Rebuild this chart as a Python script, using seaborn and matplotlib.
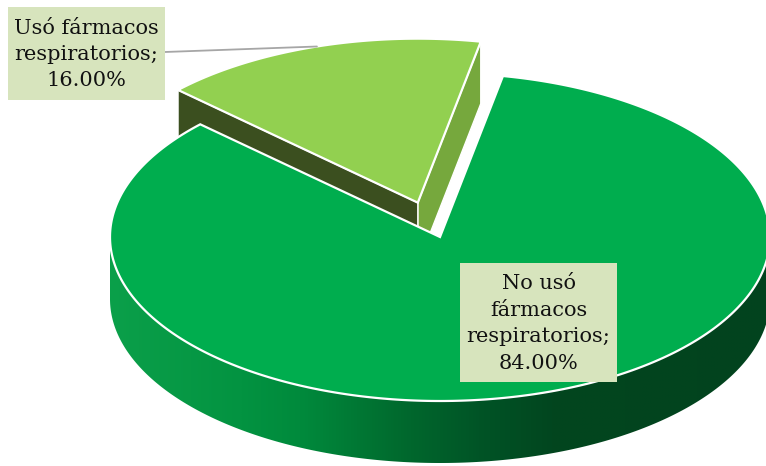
import numpy as np
import matplotlib
matplotlib.use("Agg")
import matplotlib.pyplot as plt
from matplotlib.patches import Polygon, Rectangle
from matplotlib.colors import LinearSegmentedColormap
import seaborn as sns

# ---- data ----
categories = ["Usó fármacos respiratorios", "No usó fármacos respiratorios"]
label_names = ["Usó fármacos\nrespiratorios", "No usó\nfármacos\nrespiratorios"]
values = [16.0, 84.0]

# ---- style ----
top_colors = ["#92D050", "#00AD4E"]
start_wall_colors = ["#76A83D", "#007A35"]
end_wall_colors = ["#3B4F1F", "#006A2E"]
explode = [0.22, 0.0]

sns.set_theme(style="white")
plt.rcParams["font.family"] = ["DejaVu Serif", "DejaVu Sans"]

W, H = 766, 466
fig = plt.figure(figsize=(W / 100, H / 100), dpi=100)
ax = fig.add_axes([0, 0, 1, 1])

cx, cy, rx, ry, depth = 440, 237, 330, 164, 62
start = 79.0

fracs = np.array(values) / np.sum(values)
bounds = start + 360 * np.concatenate([[0], np.cumsum(fracs)])


def rim(theta, ox=0.0, oy=0.0):
    t = np.radians(theta)
    return cx + ox + rx * np.cos(t), cy + oy - ry * np.sin(t)


wall_cmap = LinearSegmentedColormap.from_list(
    "wall",
    [(0.0, "#0BA04A"), (0.2, "#039341"), (0.29, "#008A3C"), (0.44, "#006A2E"),
     (0.56, "#005426"), (0.67, "#02461F"), (1.0, "#02431E")])

for i, (v, a0, a1) in enumerate(zip(values, bounds[:-1], bounds[1:])):
    mid = (a0 + a1) / 2
    ox = explode[i] * rx * np.cos(np.radians(mid))
    oy = -explode[i] * ry * np.sin(np.radians(mid))
    apex = (cx + ox, cy + oy)
    z = 1 + 4 * i

    # radial walls (visible when facing the viewer)
    for ang, nrm, col in [(a0, a0 - 90, start_wall_colors[i]),
                          (a1, a1 + 90, end_wall_colors[i])]:
        if np.sin(np.radians(nrm)) < 0:
            rxp, ryp = rim(ang, ox, oy)
            poly = [apex, (rxp, ryp), (rxp, ryp + depth), (apex[0], apex[1] + depth)]
            ax.add_patch(Polygon(poly, closed=True, facecolor=col, edgecolor="white",
                                 lw=1.0, zorder=z))

    # outer (front) wall
    lo, hi = max(a0, 180.0), min(a1, 360.0)
    if hi > lo:
        th = np.linspace(lo, hi, 300)
        xs, ys = rim(th, ox, oy)
        pts = list(zip(xs, ys)) + list(zip(xs[::-1], ys[::-1] + depth))
        wall = Polygon(pts, closed=True, facecolor="none", edgecolor="none", zorder=z + 1)
        ax.add_patch(wall)
        grad = np.linspace(0, 1, 512).reshape(1, -1)
        im = ax.imshow(grad, extent=[cx - rx - 2, cx + rx + 2, cy + ry + depth + 5, cy - 5],
                       cmap=wall_cmap, aspect="auto", zorder=z + 1, interpolation="bilinear")
        im.set_clip_path(wall)

    # top face
    th = np.linspace(a0, a1, 400)
    xs, ys = rim(th, ox, oy)
    top = [apex] + list(zip(xs, ys))
    ax.add_patch(Polygon(top, closed=True, facecolor=top_colors[i], edgecolor="white",
                         lw=1.6, joinstyle="miter", zorder=z + 2))

    # anchor for leader line
    if i == 0:
        anchor = rim(mid, ox, oy)

# ---- labels ----
box_specs = [(8, 7, 157, 93), (460, 263, 157, 119)]
for name, v, (bx, by, bw, bh) in zip(label_names, values, box_specs):
    ax.add_patch(Rectangle((bx, by), bw, bh, facecolor="#D7E4BD", edgecolor="none", zorder=20))
    ax.text(bx + bw / 2, by + bh / 2 + 1, f"{name};\n{v:.2f}%", ha="center", va="center",
            fontsize=15, linespacing=1.5, color="#111111", zorder=21)

bx, by, bw, bh = box_specs[0]
ax.plot([bx + bw, anchor[0]], [by + 45, anchor[1]], color="#A6A6A6", lw=1.3, zorder=19)

ax.set_xlim(0, W)
ax.set_ylim(H, 0)
ax.axis("off")
fig.savefig("out.png", dpi=100)
